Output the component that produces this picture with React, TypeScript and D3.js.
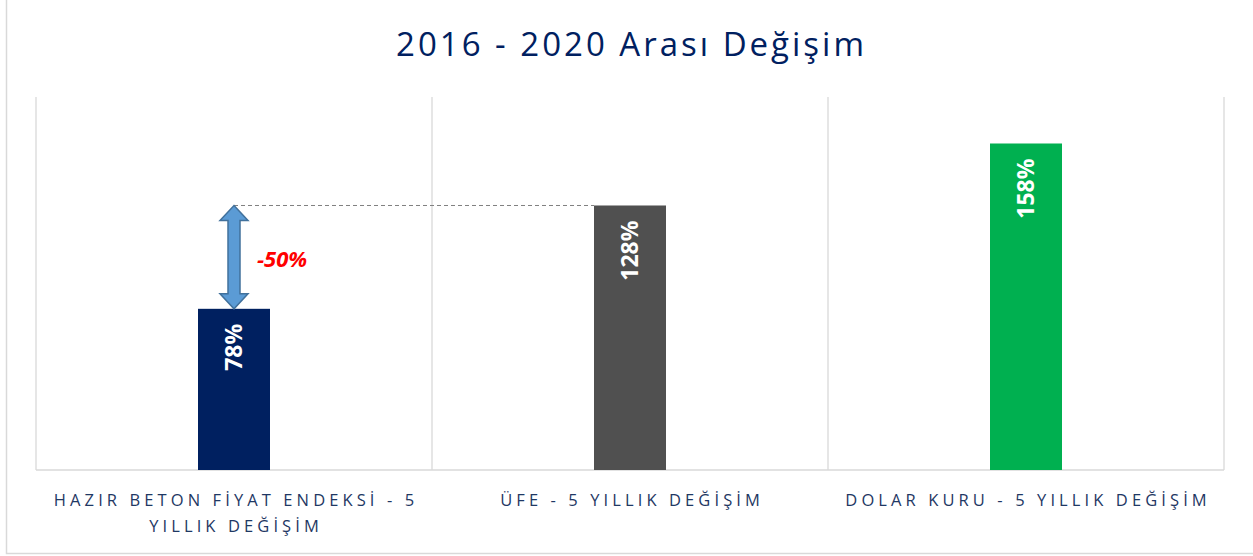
import React from "react";
import * as d3 from "d3";

const categories: string[][] = [
  ["HAZIR BETON FİYAT ENDEKSİ - 5", "YILLIK DEĞİŞİM"],
  ["ÜFE - 5 YILLIK DEĞİŞİM"],
  ["DOLAR KURU - 5 YILLIK DEĞİŞİM"],
];
const values: number[] = [78, 128, 158];
const valueLabels: string[] = ["78%", "128%", "158%"];
const barColors: string[] = ["#002060", "#505050", "#00b050"];
const title = "2016 - 2020 Arası Değişim";
const diffLabel = "-50%";

const W = 1253;
const H = 556;
const plot = { left: 36, right: 1224, top: 97, bottom: 470 };

export default function App() {
  const x = d3
    .scaleBand<number>()
    .domain(values.map((_, i) => i))
    .range([plot.left, plot.right])
    .paddingInner(0)
    .paddingOuter(0);
  const y = d3.scaleLinear().domain([0, 180.5]).range([plot.bottom, plot.top]);
  const bw = 72;
  const font = "'Open Sans', 'Noto Sans', sans-serif";

  const cx0 = x(0)! + x.bandwidth() / 2;
  const top0 = y(values[0]);
  const top1 = y(values[1]);
  const shaftW = 12;
  const headW = 28;
  const headH = 15;
  const arrowPath = [
    [cx0, top1],
    [cx0 + headW / 2, top1 + headH],
    [cx0 + shaftW / 2, top1 + headH],
    [cx0 + shaftW / 2, top0 - headH],
    [cx0 + headW / 2, top0 - headH],
    [cx0, top0],
    [cx0 - headW / 2, top0 - headH],
    [cx0 - shaftW / 2, top0 - headH],
    [cx0 - shaftW / 2, top1 + headH],
    [cx0 - headW / 2, top1 + headH],
  ];

  const boundaries = d3.range(values.length + 1).map((i) => plot.left + i * x.bandwidth());
  const catSpacing = 4.1;

  return (
    <svg
      width={W}
      height={H}
      style={{ position: "absolute", left: 0, top: 0, background: "#fff" }}
    >
      <rect x={6.5} y={-5} width={W + 10} height={558.5} fill="#fff" stroke="#d9d9d9" strokeWidth={1.5} />
      <text
        x={630 + 1.5}
        y={56}
        textAnchor="middle"
        fontFamily={font}
        fontSize={33}
        letterSpacing={3}
        fill="#002060"
      >
        {title}
      </text>
      {boundaries.map((bx, i) => (
        <line key={i} x1={bx} x2={bx} y1={plot.top} y2={plot.bottom} stroke="#d9d9d9" strokeWidth={1.3} />
      ))}
      <line x1={plot.left} x2={plot.right} y1={plot.bottom} y2={plot.bottom} stroke="#d9d9d9" strokeWidth={1.5} />
      {values.map((v, i) => {
        const cx = x(i)! + x.bandwidth() / 2;
        return (
          <g key={i}>
            <rect x={cx - bw / 2} y={y(v)} width={bw} height={y(0) - y(v)} fill={barColors[i]} />
            <text
              transform={`translate(${cx + 8},${y(v) + 15}) rotate(-90)`}
              textAnchor="end"
              fontFamily={font}
              fontWeight="bold"
              fontSize={23}
              fill="#fff"
            >
              {valueLabels[i]}
            </text>
            {categories[i].map((line, j) => (
              <text
                key={j}
                x={cx + catSpacing / 2}
                y={506 + j * 25.5}
                textAnchor="middle"
                fontFamily={font}
                fontSize={16.5}
                letterSpacing={catSpacing}
                fill="#1f3864"
              >
                {line}
              </text>
            ))}
          </g>
        );
      })}
      <line
        x1={cx0}
        x2={x(1)! + x.bandwidth() / 2 - bw / 2}
        y1={top1}
        y2={top1}
        stroke="#808080"
        strokeWidth={1}
        strokeDasharray="4,3"
      />
      <polygon
        points={arrowPath.map((p) => p.join(",")).join(" ")}
        fill="#5b9bd5"
        stroke="#41719c"
        strokeWidth={1.5}
        strokeLinejoin="miter"
      />
      <text
        x={257}
        y={267}
        fontFamily={font}
        fontWeight="bold"
        fontStyle="italic"
        fontSize={22}
        fill="#ff0000"
      >
        {diffLabel}
      </text>
    </svg>
  );
}
